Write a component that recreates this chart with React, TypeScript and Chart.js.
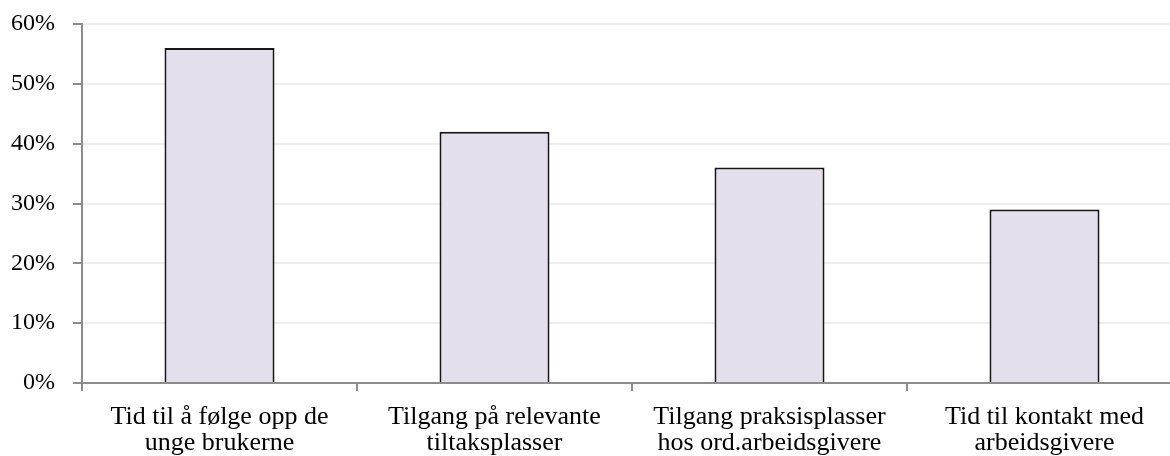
import React, { useEffect, useRef } from "react";
import { Chart, registerables } from "chart.js";

Chart.register(...registerables);

const categories: string[][] = [
  ["Tid til å følge opp de", "unge brukerne"],
  ["Tilgang på relevante", "tiltaksplasser"],
  ["Tilgang praksisplasser", "hos ord.arbeidsgivere"],
  ["Tid til kontakt med", "arbeidsgivere"],
];
const values: number[] = [56, 42, 36, 29];
const yTicks: number[] = [0, 10, 20, 30, 40, 50, 60];

const FONT = '"Liberation Serif", "Times New Roman", serif';

export default function App() {
  const ref = useRef<HTMLCanvasElement | null>(null);
  useEffect(() => {
    if (!ref.current) return;
    const chart = new Chart(ref.current, {
      type: "bar",
      data: {
        labels: categories,
        datasets: [
          {
            data: values,
            backgroundColor: "#e4dfeb",
            borderColor: "#151515",
            borderWidth: 2,
            barPercentage: 0.4,
            categoryPercentage: 1,
          },
        ],
      },
      options: {
        responsive: false,
        animation: false,
        devicePixelRatio: 1,
        layout: { padding: { top: 16, left: 0, right: 2, bottom: 0 } },
        plugins: { legend: { display: false }, tooltip: { enabled: false } },
        scales: {
          x: {
            offset: true,
            afterFit: (scale: any) => {
              scale.paddingLeft = 0;
              scale.paddingRight = 0;
              scale.height = 73;
            },
            grid: {
              display: true,
              offset: true,
              drawOnChartArea: false,
              color: "#8c8c8c",
              lineWidth: 2,
              tickLength: 8,
            },
            border: { display: true, color: "#8c8c8c", width: 2 },
            ticks: {
              color: "#000",
              padding: 13,
              maxRotation: 0,
              autoSkip: false,
              font: { family: FONT, size: 26, lineHeight: 1.0 },
            },
          },
          y: {
            min: 0,
            max: 60,
            afterBuildTicks: (axis: any) => {
              axis.ticks = yTicks.map((v) => ({ value: v }));
            },
            afterFit: (scale: any) => {
              scale.paddingTop = 0;
              scale.paddingBottom = 0;
              scale.width = 74;
            },
            grid: {
              color: "#eeeeee",
              lineWidth: 2,
              tickColor: "#8c8c8c",
              tickLength: 9,
            },
            border: { display: true, color: "#8c8c8c", width: 2 },
            ticks: {
              color: "#000",
              padding: 18,
              font: { family: FONT, size: 24 },
              callback: (v: any) => `${v}%`,
            },
          },
        },
      },
    });
    return () => chart.destroy();
  }, []);
  return (
    <div
      style={{
        position: "fixed",
        left: 8,
        top: 8,
        width: 1162,
        height: 448,
        overflow: "hidden",
        background: "#fff",
      }}
    >
      <canvas ref={ref} width={1176} height={448} style={{ display: "block" }} />
    </div>
  );
}
